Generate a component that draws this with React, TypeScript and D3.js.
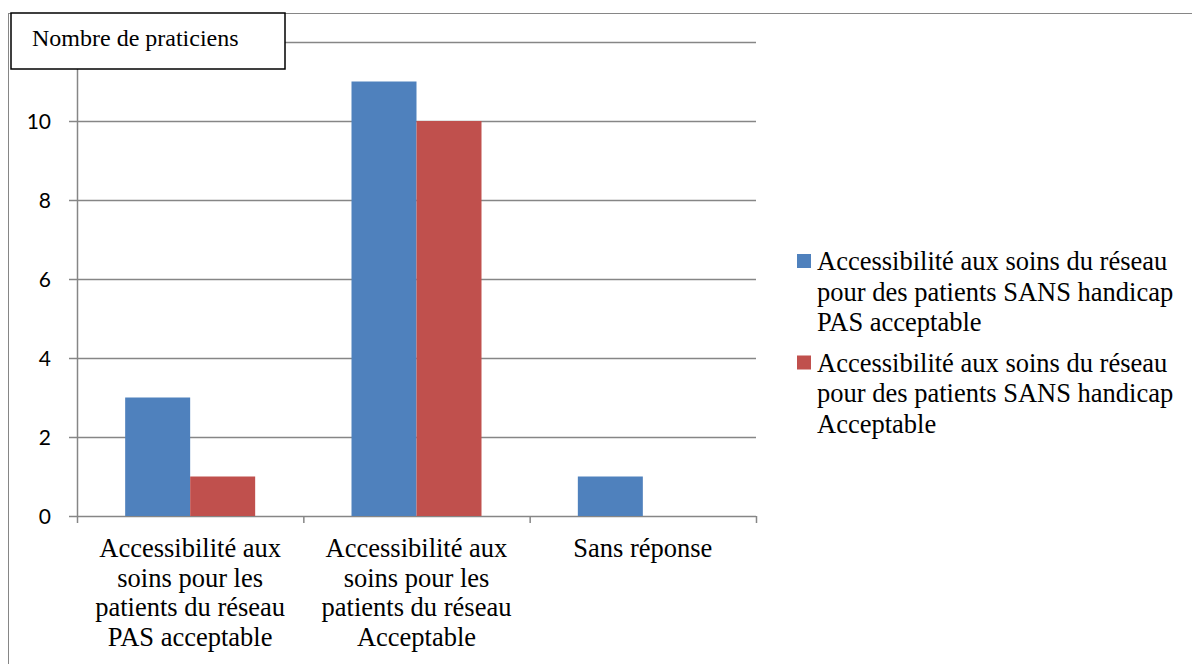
import React from 'react';
import * as d3 from 'd3';

const categories = [
  ['Accessibilité aux', 'soins pour les', 'patients du réseau', 'PAS acceptable'],
  ['Accessibilité aux', 'soins pour les', 'patients du réseau', 'Acceptable'],
  ['Sans réponse'],
];
const seriesNames = [
  ['Accessibilité aux soins du réseau', 'pour des patients SANS handicap', 'PAS acceptable'],
  ['Accessibilité aux soins du réseau', 'pour des patients SANS handicap', 'Acceptable'],
];
const seriesColors = ['#4F81BD', '#C0504D'];
const pasAcceptable = [3, 11, 1];
const acceptable = [1, 10, 0];
const yTicks = [0, 2, 4, 6, 8, 10, 12];
const yLabels = ['0', '2', '4', '6', '8', '10', ''];

const App = () => {
  const width = 1192,
    height = 664;
  const left = 77,
    right = 756,
    top = 42,
    bottom = 516;

  const x = d3.scaleBand<number>()
    .domain(d3.range(categories.length))
    .range([left, right]);
  const y = d3.scaleLinear().domain([0, 12]).range([bottom, top]);

  const series = [pasAcceptable, acceptable];
  const barW = 65;
  const grid = '#868686';

  return (
    <svg width={width} height={height} fontFamily="Liberation Serif" style={{ position: 'absolute', left: 0, top: 0 }}>
      <rect x={0} y={0} width={width} height={height} fill="#fff" />
      <rect x={8.5} y={13.5} width={width} height={height} fill="none" stroke={grid} strokeWidth={1} />
      {yTicks.map((t) => (
        <line key={t} x1={left - 8} x2={right} y1={Math.round(y(t)) + 0.5} y2={Math.round(y(t)) + 0.5} stroke={grid} strokeWidth={1.5} />
      ))}
      <line x1={left + 0.5} x2={left + 0.5} y1={top} y2={bottom} stroke={grid} strokeWidth={1.5} />
      {d3.range(categories.length + 1).map((i) => {
        const xx = i < categories.length ? x(i)! : right;
        return <line key={i} x1={xx + 0.5} x2={xx + 0.5} y1={bottom} y2={bottom + 7} stroke={grid} strokeWidth={1.5} />;
      })}
      {series.map((s, si) =>
        s.map((v, ci) => {
          const cx = x(ci)! + x.bandwidth() / 2;
          const bx = cx - barW + si * barW;
          return v > 0 ? (
            <rect key={si + '-' + ci} x={bx} y={y(v)} width={barW} height={y(0) - y(v)} fill={seriesColors[si]} />
          ) : null;
        })
      )}
      {yTicks.map((t, i) => (
        <text key={t} x={51} y={y(t) + 8} textAnchor="end" fontFamily="Lato" fontSize={21} fill="#000">
          {yLabels[i]}
        </text>
      ))}
      {categories.map((lines, ci) => (
        <text key={ci} textAnchor="middle" fontFamily="Liberation Serif" fontSize={26.5} fill="#000">
          {lines.map((l, li) => (
            <tspan key={li} x={x(ci)! + x.bandwidth() / 2} y={557 + li * 29.7}>
              {l}
            </tspan>
          ))}
        </text>
      ))}
      <rect x={11} y={13} width={274} height={56} fill="#fff" stroke="#000" strokeWidth={1.5} />
      <text x={32} y={46} fontFamily="Liberation Serif" fontSize={24} fill="#000">
        Nombre de praticiens
      </text>
      {seriesNames.map((lines, si) => (
        <g key={si} transform={`translate(0, ${si * 101.5})`}>
          <rect x={797} y={254} width={14} height={14} fill={seriesColors[si]} />
          <text fontFamily="Liberation Serif" fontSize={26.5} fill="#000">
            {lines.map((l, li) => (
              <tspan key={li} x={817} y={270 + li * 30.7}>
                {l}
              </tspan>
            ))}
          </text>
        </g>
      ))}
    </svg>
  );
};

export default App;
